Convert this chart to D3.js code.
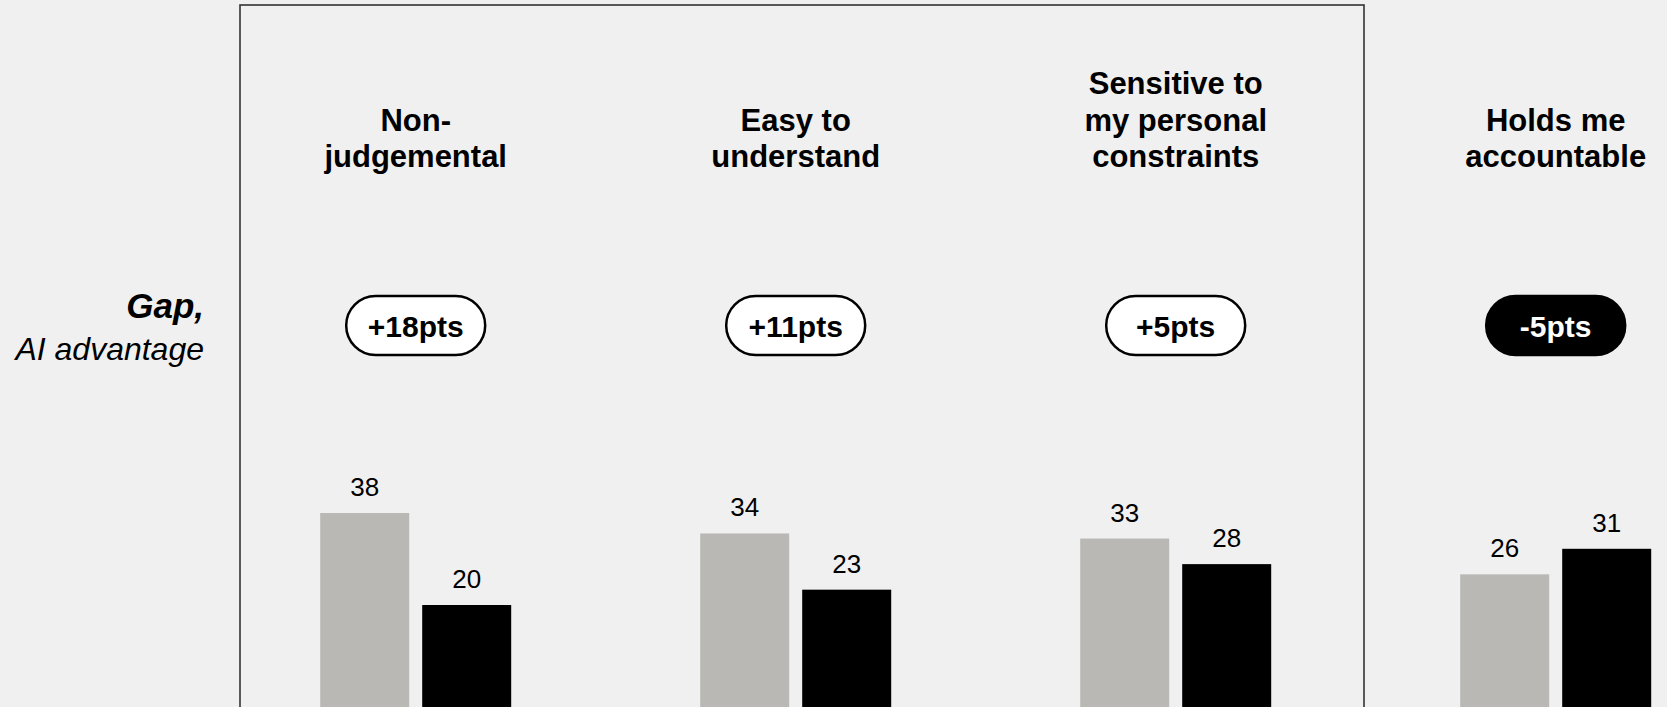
<!DOCTYPE html>
<html>
<head>
<meta charset="utf-8">
<script src="https://cdn.jsdelivr.net/npm/d3@7"></script>
<style>
  html, body { margin: 0; padding: 0; background: #f0f0f0; }
  svg { display: block; font-family: "Liberation Sans", Arial, sans-serif; }
</style>
</head>
<body>
<svg id="chart" width="1667" height="707"></svg>
<script>
// ---- data ----
const categories = ["Non-judgemental", "Easy to understand", "Sensitive to my personal constraints", "Holds me accountable"];
const categoryLines = [["Non-", "judgemental"], ["Easy to", "understand"], ["Sensitive to", "my personal", "constraints"], ["Holds me", "accountable"]];
const series = ["AI", "Human"];
const aiValues = [38, 34, 33, 26];
const humanValues = [20, 23, 28, 31];
const gapLabels = ["+18pts", "+11pts", "+5pts", "-5pts"];
const gapValues = [18, 11, 5, -5];

// ---- layout ----
const W = 1667, H = 707;
const svg = d3.select("#chart");
svg.append("rect").attr("width", W).attr("height", H).attr("fill", "#f0f0f0");

const x = d3.scaleBand().domain(categories).range([225.7, 1745.7]).paddingInner(0).paddingOuter(0);
const xInner = d3.scaleBand().domain(series).range([-95.5, 95.5]).paddingInner(13 / 102);
const y = d3.scaleLinear().domain([0, 40]).range([707.2, 502.8]);
const color = d3.scaleOrdinal().domain(series).range(["#b9b8b5", "#000000"]);

// highlight box
svg.append("rect")
  .attr("x", 240).attr("y", 5)
  .attr("width", 1124).attr("height", 800)
  .attr("fill", "none").attr("stroke", "#333").attr("stroke-width", 1.6);

// bars
const data = categories.map((c, i) => ({ cat: c, values: [
  { s: "AI", v: aiValues[i] }, { s: "Human", v: humanValues[i] }
]}));

const groups = svg.selectAll("g.grp").data(data).join("g")
  .attr("class", "grp")
  .attr("transform", d => `translate(${x(d.cat) + x.bandwidth() / 2},0)`);

groups.selectAll("rect.bar").data(d => d.values).join("rect")
  .attr("class", "bar")
  .attr("x", d => xInner(d.s))
  .attr("width", xInner.bandwidth())
  .attr("y", d => y(d.v))
  .attr("height", d => y(0) - y(d.v))
  .attr("fill", d => color(d.s));

groups.selectAll("text.val").data(d => d.values).join("text")
  .attr("class", "val")
  .attr("x", d => xInner(d.s) + xInner.bandwidth() / 2)
  .attr("y", d => y(d.v) - 17)
  .attr("text-anchor", "middle")
  .attr("font-size", 26)
  .attr("fill", "#000")
  .text(d => d.v);

// category labels (bottom aligned)
const lineH = 36.6, lastBase = 167.3;
groups.each(function(d, i) {
  const lines = categoryLines[i];
  const t = d3.select(this).append("text")
    .attr("text-anchor", "middle")
    .attr("font-size", 31)
    .attr("font-weight", "bold")
    .attr("fill", "#000");
  lines.forEach((ln, j) => {
    t.append("tspan").attr("x", 0)
      .attr("y", lastBase - (lines.length - 1 - j) * lineH)
      .text(ln);
  });
});

// gap pills
const pillW = 139, pillH = 59, pillCy = 325.5;
groups.each(function(d, i) {
  const g = d3.select(this);
  const neg = gapValues[i] < 0;
  g.append("rect")
    .attr("x", -pillW / 2).attr("y", pillCy - pillH / 2)
    .attr("width", pillW).attr("height", pillH)
    .attr("rx", pillH / 2).attr("ry", pillH / 2)
    .attr("fill", neg ? "#000" : "#fff")
    .attr("stroke", "#000").attr("stroke-width", 2.5);
  g.append("text")
    .attr("x", 0).attr("y", pillCy + 11.5)
    .attr("text-anchor", "middle")
    .attr("font-size", 30).attr("font-weight", "bold")
    .attr("fill", neg ? "#fff" : "#000")
    .text(gapLabels[i]);
});

// row label
svg.append("text")
  .attr("x", 204).attr("y", 318)
  .attr("text-anchor", "end")
  .attr("font-size", 35).attr("font-weight", "bold").attr("font-style", "italic")
  .attr("fill", "#000")
  .text("Gap,");
svg.append("text")
  .attr("x", 204).attr("y", 359.5)
  .attr("text-anchor", "end")
  .attr("font-size", 32).attr("font-style", "italic")
  .attr("fill", "#000")
  .text("AI advantage");
</script>
</body>
</html>
